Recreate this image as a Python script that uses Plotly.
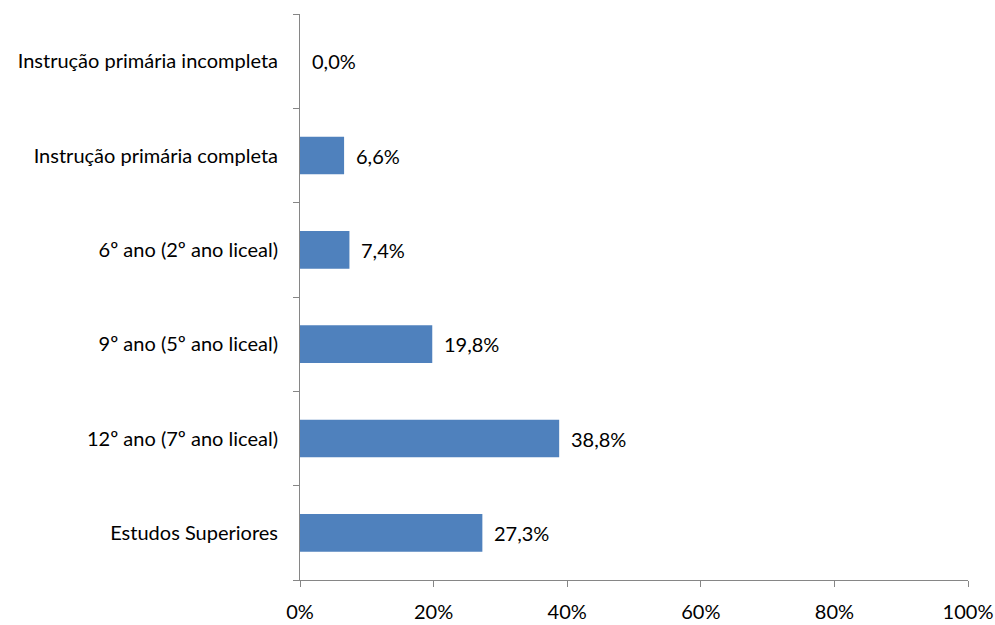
import plotly.graph_objects as go

# Education level distribution (percent of respondents)
categories = [
    "Estudos Superiores",
    "12º ano (7º ano liceal)",
    "9º ano (5º ano liceal)",
    "6º ano (2º ano liceal)",
    "Instrução primária completa",
    "Instrução primária incompleta",
]
values = [27.3, 38.8, 19.8, 7.4, 6.6, 0.0]
x_ticks = [0, 20, 40, 60, 80, 100]
x_tick_labels = ["0%", "20%", "40%", "60%", "80%", "100%"]

FONT = "Lato"
FONT_SIZE = 20
AXIS_COLOR = "#868686"
BAR_COLOR = "#4f81bd"

fig = go.Figure()
fig.add_trace(go.Bar(
    y=categories,
    x=values,
    orientation="h",
    marker=dict(color=BAR_COLOR, line=dict(width=0)),
    width=0.4,
    hoverinfo="skip",
))

# value labels placed just past the end of each bar
for cat, v in zip(categories, values):
    fig.add_annotation(
        x=v, y=cat, xref="x", yref="y",
        text=f"{v:.1f}%".replace(".", ","),
        showarrow=False, xanchor="left", yanchor="middle",
        xshift=10,
        font=dict(family=FONT, size=FONT_SIZE, color="#000000"),
    )

fig.update_layout(
    width=995, height=625,
    margin=dict(l=300, r=27, t=14, b=45, autoexpand=False),
    paper_bgcolor="white", plot_bgcolor="white",
    showlegend=False,
    font=dict(family=FONT, size=FONT_SIZE, color="#000000"),
    bargap=0.6,
)
fig.update_xaxes(
    range=[0, 100],
    tickvals=x_ticks, ticktext=x_tick_labels,
    showgrid=False, zeroline=False,
    showline=True, linecolor=AXIS_COLOR, linewidth=1,
    ticks="outside", ticklen=6, tickcolor=AXIS_COLOR,
    ticklabelstandoff=8,
    automargin=False,
    tickfont=dict(family=FONT, size=FONT_SIZE, color="#000000"),
)
fig.update_yaxes(
    categoryorder="array", categoryarray=categories,
    range=[-0.5, len(categories) - 0.5],
    showgrid=False, zeroline=False,
    showline=True, linecolor=AXIS_COLOR, linewidth=1,
    ticks="outside", ticklen=6, tickcolor=AXIS_COLOR,
    tickson="boundaries",
    ticklabelstandoff=17,
    automargin=False,
    tickfont=dict(family=FONT, size=FONT_SIZE, color="#000000"),
)

fig.write_html("out.html")
